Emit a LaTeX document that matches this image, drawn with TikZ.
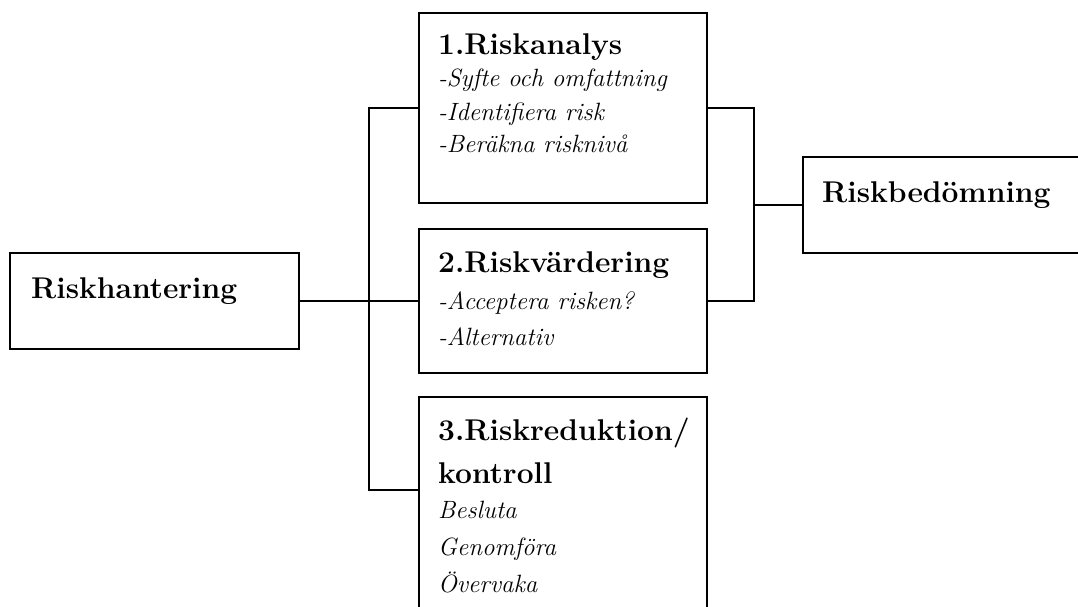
\documentclass[tikz,border=0pt]{standalone}
\usepackage{fontspec}
\begin{document}
\begin{tikzpicture}[x=1pt,y=-1pt,
  box/.style={draw,line width=1.9pt,rectangle,inner sep=0pt,anchor=north west},
  conn/.style={line width=1.5pt},
  head/.style={anchor=base west,inner sep=0pt,font=\fontsize{30}{31}\selectfont\bfseries},
  item/.style={anchor=base west,inner sep=0pt,font=\fontsize{25}{27}\selectfont\itshape}]
\useasboundingbox (0,0) rectangle (1078,607);
\clip (0,0) rectangle (1078,607);
% boxes
\node[box,minimum width=288pt,minimum height=190pt] (b1) at (418,12) {};
\node[box,minimum width=288pt,minimum height=144pt] (b2) at (418,228) {};
\node[box,minimum width=288pt,minimum height=240pt] (b3) at (418,396) {};
\node[box,minimum width=289pt,minimum height=96pt] (rh) at (9,252) {};
\node[box,minimum width=320pt,minimum height=96pt] (rb) at (802,156) {};
% texts
\node[head] (t1) at (438,55) {1.Riskanalys};
\node[item] (t1a) at (438,87) {-Syfte och omfattning};
\node[item] (t1b) at (438,121) {-Identifiera risk};
\node[item] (t1c) at (438,153) {-Beräkna risknivå};
\node[head] (t2) at (438,272) {2.Riskvärdering};
\node[item] (t2a) at (438,309) {-Acceptera risken?};
\node[item] (t2b) at (438,345) {-Alternativ};
\node[head] (t3) at (438,440) {3.Riskreduktion/};
\node[head] (t3b) at (438,483) {kontroll};
\node[item] (t3c) at (438,518) {Besluta};
\node[item] (t3d) at (438,555) {Genomföra};
\node[item] (t3e) at (438,592) {Övervaka};
\node[head] (trh) at (31,298) {Riskhantering};
\node[head] (trb) at (822,202) {Riskbedömning};
% connector helpers
\coordinate (L) at (369,0);
\coordinate (R) at (754,0);
\coordinate (j3) at (418,490);
% connectors
\draw[conn] (b1.west) -- (b1.west -| L) -- (j3 -| L) -- (j3);
\draw[conn] (rh.east) -- (b2.west);
\draw[conn] (b1.east) -- (b1.east -| R) -- (b2.east -| R) -- (b2.east);
\draw[conn] (rb.west) -- (rb.west -| R);
\end{tikzpicture}
\end{document}
